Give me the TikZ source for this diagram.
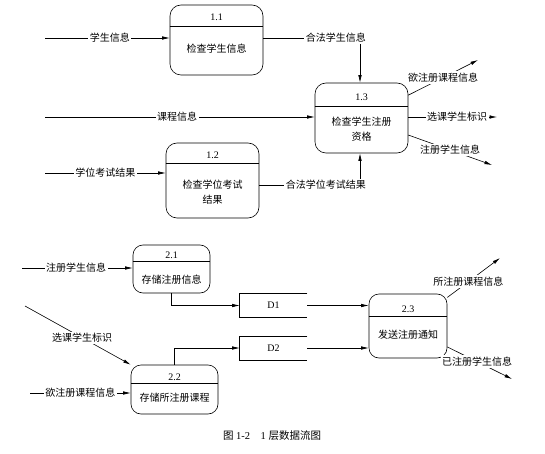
\documentclass[tikz,border=0pt]{standalone}
\usepackage{fontspec}
\setmainfont{Liberation Serif}
\newfontfamily\cjk{Noto Sans CJK SC}
\usetikzlibrary{arrows.meta}
\begin{document}
\begin{tikzpicture}[x=1pt,y=-1pt,
  line width=0.6pt,
  arr/.style={-{Latex[length=7.5pt,width=3.5pt]}},
  proc/.style={draw,rounded corners=10pt,minimum width=#1,inner sep=0pt},
  num/.style={font=\fontsize{10}{12}\selectfont,inner sep=1pt},
  ptext/.style={font=\cjk\fontsize{10}{15}\selectfont,align=center,inner sep=1pt},
  lbl/.style={font=\cjk\fontsize{10}{12}\selectfont,fill=white,inner sep=1.5pt},
  store/.style={minimum width=67pt,minimum height=23pt,inner sep=0pt,font=\fontsize{10}{12}\selectfont}]
\useasboundingbox (0,0) rectangle (545,454);
\fill[white] (0,0) rectangle (545,454);

% process 1.1
\node[proc=93pt,minimum height=70pt,rounded corners=11pt] (p11) at (216.5,40) {};
\draw ([yshift=-22pt]p11.north west) -- ([yshift=-22pt]p11.north east);
\node[num] (p11n) at (216.5,17) {1.1};
\node[ptext] (p11t) at (216.5,49) {检查学生信息};

% process 1.3
\node[proc=93pt,minimum height=70pt,rounded corners=11pt] (p13) at (361.5,118) {};
\draw ([yshift=-24pt]p13.north west) -- ([yshift=-24pt]p13.north east);
\node[num] (p13n) at (361.5,97) {1.3};
\node[ptext] (p13t) at (361.5,129) {检查学生注册\\资格};

% process 1.2
\node[proc=93pt,minimum height=75pt,rounded corners=11pt] (p12) at (212.5,180.5) {};
\draw ([yshift=-21pt]p12.north west) -- ([yshift=-21pt]p12.north east);
\node[num] (p12n) at (212.5,155) {1.2};
\node[ptext] (p12t) at (212.5,192) {检查学位考试\\结果};

% process 2.1
\node[proc=77pt,minimum height=48pt] (p21) at (171.5,269) {};
\draw ([yshift=-17pt]p21.north west) -- ([yshift=-17pt]p21.north east);
\node[num] (p21n) at (171.5,255) {2.1};
\node[ptext] (p21t) at (171.5,280) {存储注册信息};

% process 2.2
\node[proc=87pt,minimum height=49pt] (p22) at (174.5,389.5) {};
\draw ([yshift=-19pt]p22.north west) -- ([yshift=-19pt]p22.north east);
\node[num] (p22n) at (174.5,377) {2.2};
\node[ptext] (p22t) at (174.5,398) {存储所注册课程};

% process 2.3
\node[proc=78pt,minimum height=64pt] (p23) at (408,326) {};
\draw ([yshift=-23pt]p23.north west) -- ([yshift=-23pt]p23.north east);
\node[num] (p23n) at (408,309) {2.3};
\node[ptext] (p23t) at (408,335) {发送注册通知};

% data stores
\node[store] (d1) at (273.5,305.5) {D1};
\draw (d1.north east) -- (d1.north west) -- (d1.south west) -- (d1.south east);
\node[store] (d2) at (273.5,348) {D2};
\draw (d2.north east) -- (d2.north west) -- (d2.south west) -- (d2.south east);

% free ends
\coordinate (i1) at (45,38);
\coordinate (i2) at (45,117);
\coordinate (i3) at (45,173);
\coordinate (c1) at (360,38);
\coordinate (c2) at (360,185);
\coordinate (o1) at (478,60);
\coordinate (o2) at (497,117);
\coordinate (o3) at (492,165);
\coordinate (i4) at (22,268);
\coordinate (i5) at (25,306);
\coordinate (i6) at (30,393);
\coordinate (o4) at (500,258);
\coordinate (o5) at (512,379);

% connectors level 1
\draw[arr] (i1) -- node[lbl,pos=0.52]{学生信息} (i1 -| p11.west);
\draw[arr] (c1 -| p11.east) -- node[lbl,pos=0.75]{合法学生信息} (c1) -- (c1 |- p13.north);
\draw[arr] (i2) -- node[lbl,pos=0.49]{课程信息} (i2 -| p13.west);
\draw[arr] (i3) -- node[lbl,pos=0.5]{学位考试结果} (i3 -| p12.west);
\draw[arr] (c2 -| p12.east) -- node[lbl,pos=0.66]{合法学位考试结果} (c2) -- (c2 |- p13.south);
\draw[arr] (p13.26) -- node[lbl,pos=0.5]{欲注册课程信息} (o1);
\draw[arr] (o2 -| p13.east) -- node[lbl,pos=0.55]{选课学生标识} (o2);
\draw[arr] (p13.-20) -- node[lbl,pos=0.5]{注册学生信息} (o3);

% connectors level 2
\draw[arr] (i4) -- node[lbl,pos=0.49]{注册学生信息} (i4 -| p21.west);
\draw[arr] (p21.south) |- (d1.west);
\draw[arr] (d1.east) -- (d1.east -| p23.west);
\draw[arr] (d2.east) -- (d2.east -| p23.west);
\draw[arr] (p22.north) |- (d2.west);
\draw[arr] (i5) -- node[lbl,pos=0.54]{选课学生标识} (p22.north west);
\draw[arr] (i6) -- node[lbl,pos=0.5]{欲注册课程信息} (i6 -| p22.west);
\draw[arr] (p23.36) -- node[lbl,pos=0.4]{所注册课程信息} (o4);
\draw[arr] (p23.-28) -- node[lbl,pos=0.46]{已注册学生信息} (o5);

% caption
\node[font=\fontsize{10.5}{12}\selectfont] (cap) at (272,436) {{\cjk 图} 1-2\quad 1 {\cjk 层数据流图}};
\end{tikzpicture}
\end{document}
